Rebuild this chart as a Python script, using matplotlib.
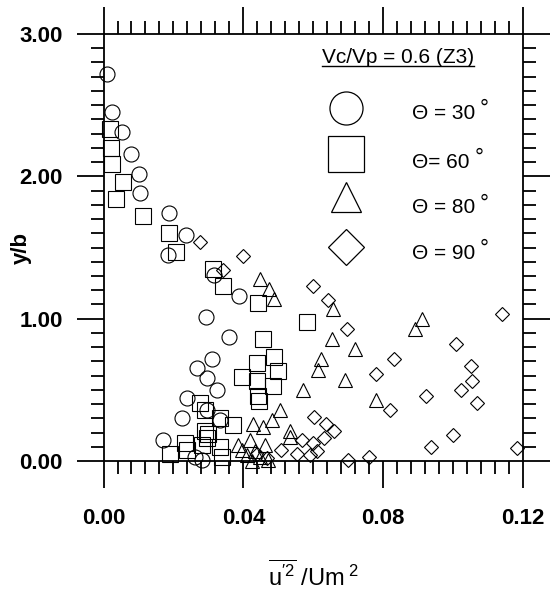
import matplotlib
matplotlib.use("Agg")
import matplotlib.pyplot as plt
from matplotlib.ticker import MultipleLocator, FormatStrFormatter
from matplotlib.lines import Line2D

plt.rcParams['font.family'] = ['Liberation Sans', 'DejaVu Sans']
plt.rcParams['mathtext.fontset'] = 'custom'
plt.rcParams['mathtext.rm'] = 'Liberation Sans'
plt.rcParams['mathtext.it'] = 'Liberation Sans:italic'
plt.rcParams['mathtext.bf'] = 'Liberation Sans:bold'

# theta = 30 (circulos)
x30 = [0.0009, 0.0025, 0.0052, 0.0078, 0.0102, 0.0104, 0.0187, 0.0236, 0.0185, 0.0316,
       0.0388, 0.0292, 0.0359, 0.0311, 0.0268, 0.0295, 0.0326, 0.0240, 0.0295, 0.0224,
       0.0171, 0.0262, 0.0281, 0.0333]
y30 = [2.72, 2.45, 2.31, 2.16, 2.02, 1.88, 1.74, 1.59, 1.45, 1.31,
       1.16, 1.01, 0.87, 0.72, 0.65, 0.58, 0.50, 0.44, 0.36, 0.30,
       0.15, 0.03, 0.01, 0.29]

# theta = 60 (cuadrados)
x60 = [0.0019, 0.0021, 0.0025, 0.0057, 0.0035, 0.0114, 0.0187, 0.0207, 0.0312, 0.0343,
       0.0443, 0.0581, 0.0457, 0.0489, 0.0438, 0.0500, 0.0395, 0.0438, 0.0486, 0.0443,
       0.0445, 0.0276, 0.0290, 0.0333, 0.0371, 0.0290, 0.0295, 0.0281, 0.0233, 0.0333,
       0.0190, 0.0238, 0.0338, 0.0300]
y60 = [2.33, 2.20, 2.09, 1.96, 1.84, 1.72, 1.60, 1.47, 1.35, 1.23,
       1.11, 0.98, 0.86, 0.73, 0.69, 0.63, 0.59, 0.56, 0.53, 0.46,
       0.42, 0.41, 0.36, 0.30, 0.25, 0.21, 0.16, 0.11, 0.13, 0.10,
       0.05, 0.08, 0.03, 0.19]

# theta = 80 (triangulos)
x80 = [0.0448, 0.0474, 0.0488, 0.0657, 0.0653, 0.0719, 0.0622, 0.0613, 0.0691, 0.0570,
       0.0910, 0.0891, 0.0779, 0.0505, 0.0481, 0.0428, 0.0457, 0.0533, 0.0532, 0.0419,
       0.0462, 0.0386, 0.0395, 0.0410, 0.0433, 0.0448, 0.0471, 0.0424]
y80 = [1.28, 1.21, 1.14, 1.07, 0.86, 0.79, 0.72, 0.64, 0.57, 0.50,
       1.00, 0.93, 0.43, 0.36, 0.29, 0.26, 0.24, 0.21, 0.17, 0.15,
       0.11, 0.11, 0.08, 0.04, 0.07, 0.03, 0.01, 0.00]

# theta = 90 (rombos)
x90 = [0.0276, 0.0398, 0.0343, 0.0598, 0.0641, 0.0697, 0.0832, 0.0779, 0.1141, 0.1007,
       0.1051, 0.1053, 0.1023, 0.1067, 0.0922, 0.0820, 0.1001, 0.0937, 0.1182, 0.0700,
       0.0759, 0.0602, 0.0636, 0.0660, 0.0631, 0.0567, 0.0598, 0.0508, 0.0553, 0.0610,
       0.0591, 0.0467, 0.0440]
y90 = [1.54, 1.44, 1.34, 1.23, 1.13, 0.93, 0.72, 0.61, 1.03, 0.82,
       0.67, 0.56, 0.50, 0.41, 0.46, 0.36, 0.18, 0.10, 0.09, 0.01,
       0.03, 0.31, 0.26, 0.21, 0.16, 0.15, 0.13, 0.08, 0.05, 0.07,
       0.04, 0.02, 0.05]

etiquetas = ['Θ = 30', 'Θ= 60', 'Θ = 80', 'Θ = 90']
titulo = 'Vc/Vp = 0.6 (Z3)'

series = [
    (x30, y30, 'o', 10.8, 23.8),
    (x60, y60, 's', 11.0, 26.0),
    (x80, y80, '^', 9.5, 22.0),
    (x90, y90, 'D', 7.6, 18.8),
]

fig = plt.figure(figsize=(5.53, 5.95), dpi=100)
ax = fig.add_axes([0.1872, 0.2252, 0.7586, 0.7176])

for xs, ys, m, ms, _ in series:
    ax.plot(xs, ys, linestyle='none', marker=m, markersize=ms, mfc='none',
            mec='black', mew=0.8, clip_on=False)

ax.set_xlim(0, 0.12)
ax.set_ylim(0, 3)
ax.xaxis.set_major_locator(MultipleLocator(0.04))
ax.xaxis.set_minor_locator(MultipleLocator(0.004))
ax.yaxis.set_major_locator(MultipleLocator(1.0))
ax.yaxis.set_minor_locator(MultipleLocator(0.1))
ax.xaxis.set_major_formatter(FormatStrFormatter('%.2f'))
ax.yaxis.set_major_formatter(FormatStrFormatter('%.2f'))

ax.tick_params(which='both', direction='out', top=True, right=True,
               labeltop=False, labelright=False, width=1.3)
ax.tick_params(which='major', length=19.5, labelsize=16)
ax.tick_params(which='minor', length=9.5)
ax.tick_params(axis='x', pad=14)
ax.tick_params(axis='y', pad=10)
for lbl in ax.get_xticklabels() + ax.get_yticklabels():
    lbl.set_fontweight('bold')
for s in ax.spines.values():
    s.set_linewidth(1.3)

ax.set_ylabel('y/b', fontsize=16, fontweight='bold')
ax.yaxis.set_label_coords(-0.17, 0.5)
ax.set_xlabel(r"$\overline{\mathrm{u}^{\prime 2}}\ \mathrm{/Um}^{\ 2}$", fontsize=17)
ax.xaxis.set_label_coords(0.5, -0.232)

# leyenda dibujada a mano
pos_y_marca = [0.827, 0.719, 0.618, 0.501]
pos_y_texto = [0.815, 0.700, 0.593, 0.487]
textos = []
for (xs, ys, m, ms, ms_ley), yl, yt, et in zip(series, pos_y_marca, pos_y_texto, etiquetas):
    ax.plot([0.578], [yl], transform=ax.transAxes, linestyle='none', marker=m,
            markersize=ms_ley, mfc='none', mec='black', mew=0.9, clip_on=False)
    textos.append(ax.text(0.735, yt, et, transform=ax.transAxes, fontsize=15,
                          ha='left', va='center'))

t = ax.text(0.702, 0.944, titulo, transform=ax.transAxes, fontsize=15,
            ha='center', va='center')

fig.canvas.draw()
bb = t.get_window_extent()
fig.add_artist(Line2D([bb.x0, bb.x1], [bb.y0 + 1, bb.y0 + 1], color='black',
                      linewidth=1.0, transform=None))

# simbolo de grado elevado
for tx in textos:
    b = tx.get_window_extent()
    fig.text((b.x1 + 5) / fig.bbox.width, (b.y1 + 5) / fig.bbox.height, '°',
             fontsize=16, ha='left', va='top')

fig.savefig('out.png', dpi=100)
